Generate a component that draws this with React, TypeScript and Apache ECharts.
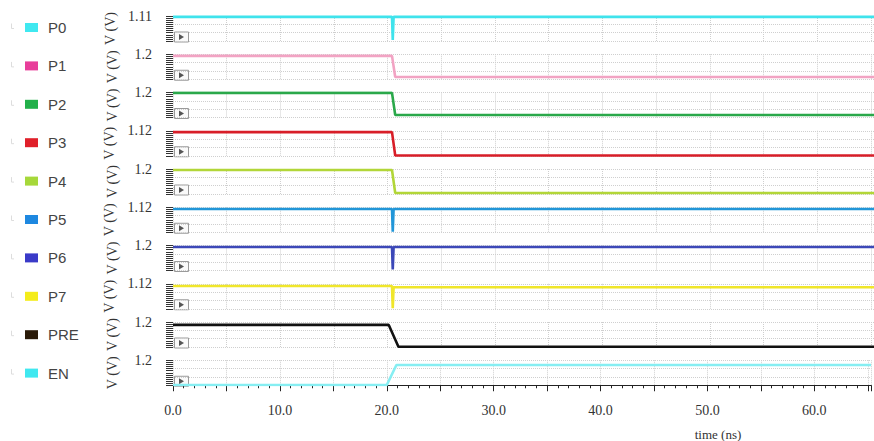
import React, { useEffect, useRef } from "react";
import * as echarts from "echarts";

const signalNames = ["P0", "P1", "P2", "P3", "P4", "P5", "P6", "P7", "PRE", "EN"];
const axisTopLabels = ["1.11", "1.2", "1.2", "1.12", "1.2", "1.12", "1.2", "1.12", "1.2", "1.2"];
const axisMax = [1.11, 1.2, 1.2, 1.12, 1.2, 1.12, 1.2, 1.12, 1.2, 1.2];
const timeMax = 65.3;
const timeTicks = [0, 10, 20, 30, 40, 50, 60];

const p0 = [[0, 1.07], [20.4, 1.07], [20.47, 0.05], [20.55, 1.07], [65.3, 1.07]];
const p1 = [[0, 1.12], [20.4, 1.12], [20.7, 0.11], [65.3, 0.11]];
const p2 = [[0, 1.18], [20.4, 1.18], [20.7, 0.12], [65.3, 0.12]];
const p3 = [[0, 1.06], [20.4, 1.06], [20.7, 0.01], [65.3, 0.01]];
const p4 = [[0, 1.15], [20.4, 1.15], [20.7, 0.05], [65.3, 0.05]];
const p5 = [[0, 1.04], [20.4, 1.04], [20.47, 0.02], [20.55, 1.04], [65.3, 1.04]];
const p6 = [[0, 1.13], [20.4, 1.13], [20.47, 0.05], [20.55, 1.13], [65.3, 1.13]];
const p7 = [[0, 1.02], [20.4, 1.02], [20.47, 0.02], [20.55, 0.96], [65.3, 0.96]];
const pre = [[0, 1.06], [20.1, 1.06], [21.0, 0.01], [65.3, 0.01]];
const en = [[0, 0.01], [20.0, 0.01], [20.9, 0.97], [65.3, 0.97]];
const signalData = [p0, p1, p2, p3, p4, p5, p6, p7, pre, en];

const lineColors = ["#3fe3ec", "#f2a3c3", "#2aa84a", "#d81e28", "#b2d638", "#2196d8", "#3c48b8", "#f0e62a", "#111111", "#86eef2"];
const legendColors = ["#40e8f0", "#e83e9a", "#22b04a", "#e0202a", "#a6d83a", "#1e88e0", "#3a3ac8", "#f4ec1a", "#2a1a08", "#40e8f0"];

const GRID_LEFT = 173;
const GRID_TOP0 = 16;
const ROW = 38.25;
const GRID_H = 25;
const SERIF = "Liberation Serif";

export default function App() {
  const ref = useRef<HTMLDivElement>(null);
  useEffect(() => {
    document.body.style.margin = "0";
    const chart = echarts.init(ref.current!, null, { renderer: "svg" });
    const n = signalNames.length;
    const grids = signalNames.map((_, i) => ({
      left: GRID_LEFT,
      right: 0,
      top: GRID_TOP0 + ROW * i,
      height: GRID_H,
    }));
    const xAxes = signalNames.map((_, i) => {
      const last = i === n - 1;
      return {
        type: "value",
        gridIndex: i,
        min: 0,
        max: timeMax,
        interval: 5,
        offset: last ? 11.5 : 0,
        axisLine: { show: last, lineStyle: { color: "#222", width: 1 } },
        axisTick: { show: last, length: 6, lineStyle: { color: "#222" } },
        minorTick: { show: last, splitNumber: 5, length: 3, lineStyle: { color: "#222" } },
        axisLabel: {
          show: last,
          margin: 7,
          fontFamily: SERIF,
          fontSize: 14,
          color: "#333",
          formatter: (v: number) => (timeTicks.indexOf(Math.round(v * 100) / 100) >= 0 ? v.toFixed(1) : ""),
        },
        splitLine: { show: true, lineStyle: { color: "#cfcfcf", type: "dotted", width: 1 } },
      };
    });
    const yAxes = signalNames.map((_, i) => ({
      type: "value",
      gridIndex: i,
      min: 0,
      max: axisMax[i],
      interval: axisMax[i] / 3,
      offset: 7,
      name: "V (V)",
      nameLocation: "middle",
      nameRotate: 90,
      nameGap: 47,
      nameTextStyle: { fontFamily: SERIF, fontSize: 14, color: "#333" },
      axisLine: { show: false },
      axisTick: { show: true, length: 7, lineStyle: { color: "#333", width: 1 } },
      minorTick: { show: true, splitNumber: 4, length: 7, lineStyle: { color: "#333", width: 1 } },
      axisLabel: {
        margin: 14,
        fontFamily: SERIF,
        fontSize: 14,
        color: "#333",
        showMaxLabel: true,
        padding: [0, 0, 8, 0],
        formatter: (v: number) => (Math.abs(v - axisMax[i]) < 1e-6 ? axisTopLabels[i] : ""),
      },
      splitLine: { show: true, lineStyle: { color: "#cfcfcf", type: "dotted", width: 1 } },
    }));
    const series = signalNames.map((name, i) => ({
      type: "line",
      name,
      xAxisIndex: i,
      yAxisIndex: i,
      data: signalData[i],
      symbol: "none",
      color: lineColors[i],
      lineStyle: { color: lineColors[i], width: 2.6 },
      silent: true,
    }));
    const graphics: any[] = [];
    signalNames.forEach((_, i) => {
      const top = GRID_TOP0 + ROW * i;
      graphics.push({
        type: "rect",
        shape: { x: 174.5, y: top + 16, width: 14, height: 10 },
        style: { fill: "#fafafa", stroke: "#9a9a9a", lineWidth: 1 },
        silent: true,
      });
      graphics.push({
        type: "polygon",
        shape: { points: [[179, top + 18], [179, top + 24], [184, top + 21]] },
        style: { fill: "#555" },
        silent: true,
      });
      const ly = 27.5 + 38.4 * i;
      graphics.push({
        type: "polyline",
        shape: { points: [[11.5, ly - 4], [11.5, ly + 1], [14, ly + 1]] },
        style: { stroke: "#dddddd", lineWidth: 1, fill: null },
        silent: true,
      });
    });
    graphics.push({
      type: "text",
      x: 718,
      y: 434,
      style: {
        text: "time (ns)",
        fontFamily: SERIF,
        fontSize: 13,
        fill: "#333",
        align: "center",
        verticalAlign: "middle",
      },
      silent: true,
    });
    chart.setOption({
      animation: false,
      backgroundColor: "#ffffff",
      legend: {
        orient: "vertical",
        left: 20,
        top: 14.5,
        icon: "rect",
        itemWidth: 13,
        itemHeight: 9,
        itemGap: 22.4,
        selectedMode: false,
        textStyle: {
          fontFamily: "Liberation Sans",
          fontSize: 15,
          lineHeight: 16,
          color: "#444",
          padding: [0, 0, 0, 5],
        },
        data: signalNames.map((name, i) => ({ name, itemStyle: { color: legendColors[i] } })),
      },
      grid: grids,
      xAxis: xAxes,
      yAxis: yAxes,
      series,
      graphic: graphics,
    });
    return () => chart.dispose();
  }, []);
  return <div ref={ref} style={{ width: 874, height: 441 }} />;
}
